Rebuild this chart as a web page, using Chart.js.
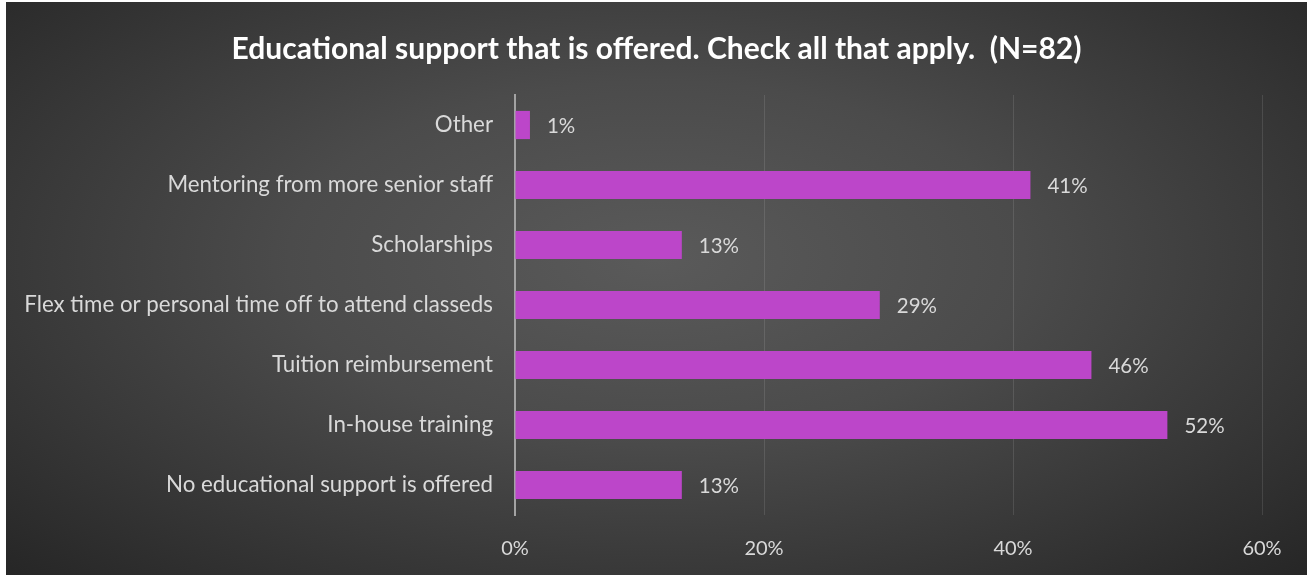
<!DOCTYPE html>
<html>
<head>
<meta charset="utf-8">
<title>Educational support</title>
<script src="https://cdn.jsdelivr.net/npm/chart.js@4/dist/chart.umd.min.js"></script>
<style>
  html, body { margin: 0; padding: 0; background: #fff; }
  #wrap {
    position: absolute; left: 6px; top: 2px; width: 1301px; height: 573px;
    background: radial-gradient(ellipse farthest-corner at 50% 45%, #5a5a5a 0%, #4b4b4b 40%, #262626 100%);
  }
</style>
</head>
<body>
<div id="wrap"><canvas id="chart"></canvas></div>
<script>
// survey answers, top to bottom as shown
const categories = [
  "Other",
  "Mentoring from more senior staff",
  "Scholarships",
  "Flex time or personal time off to attend classeds",
  "Tuition reimbursement",
  "In-house training",
  "No educational support is offered"
];
// share of respondents (%), N=82
const percents = [1.2, 41.4, 13.4, 29.3, 46.3, 52.4, 13.4];
const axisMax = 60;
const axisStep = 20;

const labelColor = "#d9d9d9";
const fontFamily = "Lato, 'Open Sans', sans-serif";

// value text to the right of each bar
const barValueLabels = {
  id: "barValueLabels",
  afterDatasetsDraw(chart) {
    const ctx = chart.ctx;
    const meta = chart.getDatasetMeta(0);
    ctx.save();
    ctx.font = "20.5px " + fontFamily;
    ctx.fillStyle = labelColor;
    ctx.textAlign = "left";
    ctx.textBaseline = "middle";
    meta.data.forEach((bar, i) => {
      ctx.fillText(Math.round(percents[i]) + "%", bar.x + 17, bar.y + 1);
    });
    ctx.restore();
  }
};

new Chart(document.getElementById("chart"), {
  type: "bar",
  data: {
    labels: categories,
    datasets: [{
      data: percents,
      backgroundColor: "#bc46c9",
      borderWidth: 0,
      barPercentage: 0.47,
      categoryPercentage: 1
    }]
  },
  options: {
    indexAxis: "y",
    responsive: true,
    maintainAspectRatio: false,
    animation: false,
    layout: { padding: 0 },
    plugins: {
      legend: { display: false },
      tooltip: { enabled: false },
      title: {
        display: true,
        text: "Educational support that is offered. Check all that apply.  (N=82)",
        color: "#ffffff",
        font: { family: fontFamily, size: 30, weight: "bold", lineHeight: 1.2 },
        padding: { top: 29, bottom: 28 }
      }
    },
    scales: {
      x: {
        min: 0,
        max: axisMax,
        ticks: {
          stepSize: axisStep,
          color: labelColor,
          font: { family: fontFamily, size: 20 },
          padding: 22,
          callback: v => v + "%"
        },
        grid: { color: "rgba(255,255,255,0.11)", lineWidth: 1, drawTicks: false },
        border: { display: false },
        // right-hand room for the plot only, so the title stays centred on the panel
        afterFit(scale) { scale.height = 60; scale.paddingRight = 45; }
      },
      y: {
        ticks: {
          color: labelColor,
          font: { family: fontFamily, size: 22.3 },
          padding: 14
        },
        grid: { display: false },
        border: { display: true, color: "#a3a3a3", width: 2 },
        afterFit(scale) { scale.width = 509; }
      }
    }
  },
  plugins: [barValueLabels]
});
</script>
</body>
</html>
